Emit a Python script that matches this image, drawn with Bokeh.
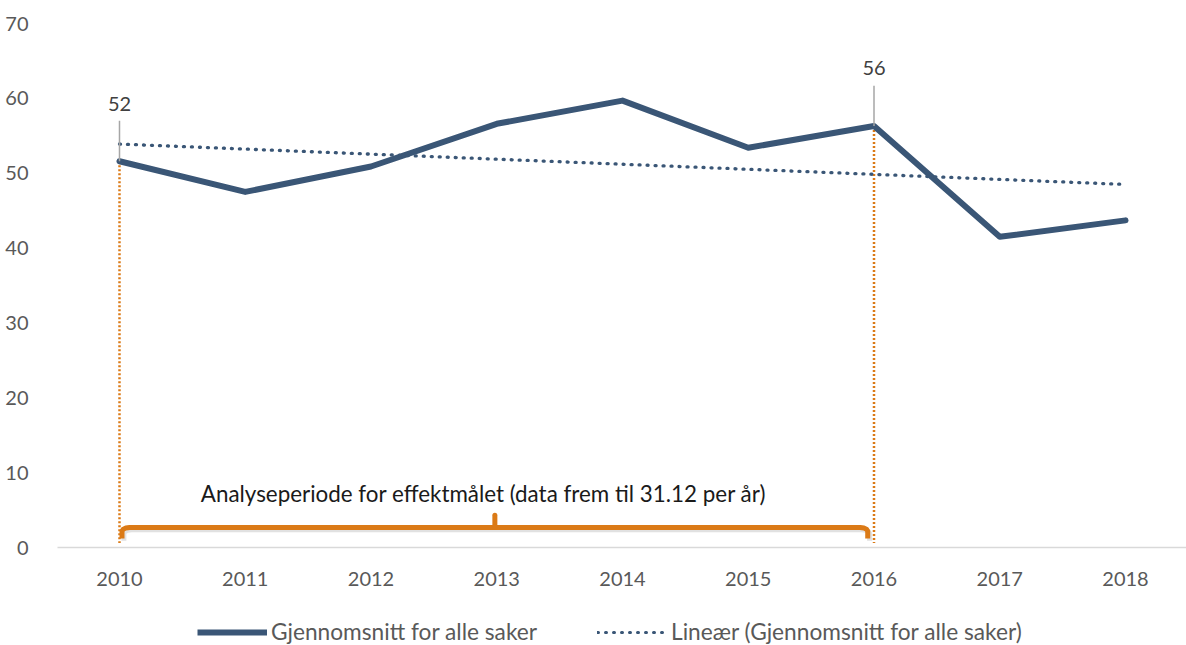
from bokeh.plotting import figure
from bokeh.models import Range1d, FixedTicker, Legend, LegendItem
from bokeh.layouts import column
from bokeh.core.properties import value
from bokeh.embed import file_html
from bokeh.resources import INLINE

years = [2010, 2011, 2012, 2013, 2014, 2015, 2016, 2017, 2018]
avg_all = [51.6, 47.5, 50.9, 56.6, 59.7, 53.4, 56.3, 41.5, 43.7]
trend_years = [2010, 2018]
trend_vals = [53.9, 48.5]
label_years = [2010, 2016]
label_texts = ["52", "56"]
period_start, period_end = 2010, 2016
period_text = "Analyseperiode for effektmålet (data frem til 31.12 per år)"
y_ticks = [0, 10, 20, 30, 40, 50, 60, 70]
legend_labels = ["Gjennomsnitt for alle saker", "Lineær (Gjennomsnitt for alle saker)"]

FONT = "Lato"
BLUE = "#3A5676"
ORANGE = "#DB7A16"

p = figure(width=1186, height=607, output_backend="svg", toolbar_location=None,
           x_range=Range1d(2009.507, 2018.485), y_range=Range1d(0, 70),
           min_border_left=57, min_border_right=0, min_border_top=23, min_border_bottom=60)
p.outline_line_color = None
p.xgrid.grid_line_color = None
p.ygrid.grid_line_color = None
p.background_fill_color = "white"

# axes
p.xaxis.ticker = FixedTicker(ticks=years)
p.xaxis.major_label_overrides = {y: str(y) for y in years}
p.xaxis.axis_line_color = "#D9D9D9"
p.xaxis.axis_line_width = 1.5
p.xaxis.major_tick_line_color = None
p.xaxis.minor_tick_line_color = None
p.xaxis.major_label_standoff = 18
p.yaxis.ticker = FixedTicker(ticks=y_ticks)
p.yaxis.axis_line_color = None
p.yaxis.major_tick_line_color = None
p.yaxis.minor_tick_line_color = None
p.yaxis.major_label_standoff = 23
for ax in (p.xaxis, p.yaxis):
    ax.major_label_text_font = FONT
    ax.major_label_text_font_size = "20px"
    ax.major_label_text_color = "#595959"

# orange dotted verticals
idx = {y: i for i, y in enumerate(years)}
for ly in label_years:
    p.segment(x0=[ly], y0=[avg_all[idx[ly]]], x1=[ly], y1=[0.6], line_color=ORANGE,
              line_width=2.5, line_dash="2 2")

# main line
p.line(years, avg_all, line_color=BLUE, line_width=6, line_join="round", line_cap="round")
# trend
p.line(trend_years, trend_vals, line_color=BLUE, line_width=3.3, line_dash="1 7", line_cap="round")

# data labels with leader lines
lv = [avg_all[idx[ly]] for ly in label_years]
p.segment(x0=label_years, y0=lv, x1=label_years, y1=[v + 5.4 for v in lv], line_color="#A6A6A6", line_width=1.5)
p.text(x=label_years, y=[v + 7.7 for v in lv], text=label_texts, text_align="center", text_baseline="middle",
       text_font=value(FONT), text_font_size="20px", text_color="#404040")

# bracket
x0 = period_start + 0.02
x1 = period_end - 0.05
mid = (x0 + x1) / 2
ybar = 2.67
bx = [x0, x0, x0 + 0.01, x0 + 0.03, x0 + 0.06, x1 - 0.06, x1 - 0.03, x1 - 0.01, x1, x1]
by = [1.2, 2.2, 2.45, 2.6, ybar, ybar, 2.6, 2.45, 2.2, 1.2]
p.line([x + 0.015 for x in bx], [y - 0.3 for y in by], line_color="#888888", line_alpha=0.25, line_width=5,
       line_join="round")
p.line(bx, by, line_color=ORANGE, line_width=5, line_join="round")
p.segment(x0=[mid], y0=[ybar], x1=[mid], y1=[4.3], line_color=ORANGE, line_width=5, line_cap="round")
p.text(x=[mid - 0.09], y=[7.2], text=[period_text], text_align="center", text_baseline="middle",
       text_font=value(FONT), text_font_size="22.4px", text_color="#1A1A1A")

# legend in its own strip (sample renderers sit outside the visible range)
lg = figure(width=1186, height=38, output_backend="svg", toolbar_location=None,
            x_range=Range1d(0, 1), y_range=Range1d(0, 1), x_axis_location=None, y_axis_location=None,
            min_border=0)
lg.outline_line_color = None
lg.xgrid.grid_line_color = None
lg.ygrid.grid_line_color = None
r1 = lg.line(x=[-10, -9], y=[-10, -9], line_color=BLUE, line_width=6)
r2 = lg.line(x=[-10, -9], y=[-10, -9], line_color=BLUE, line_width=3, line_dash="1 7", line_cap="round")
legend = Legend(items=[LegendItem(label=legend_labels[0], renderers=[r1]),
                       LegendItem(label=legend_labels[1], renderers=[r2])],
                orientation="horizontal", location=(140, 0), glyph_width=70, glyph_height=16,
                label_height=16, label_standoff=4, spacing=60, padding=0, margin=0,
                border_line_alpha=0, background_fill_alpha=0,
                label_text_font=FONT, label_text_font_size="22.7px", label_text_color="#595959")
lg.add_layout(legend)

open("out.html", "w").write(file_html(column(p, lg), INLINE))
